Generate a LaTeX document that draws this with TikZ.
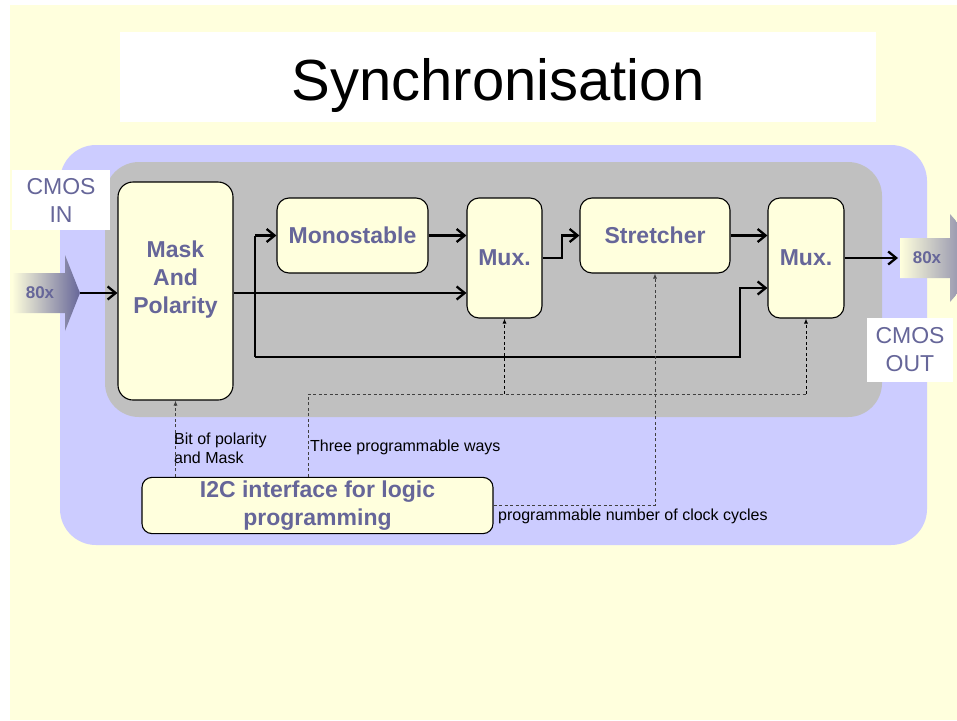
\documentclass[tikz,border=0pt]{standalone}
\usepackage{fontspec}
\setmainfont{Liberation Sans}
\usetikzlibrary{arrows.meta, positioning}

\definecolor{paleyellow}{HTML}{FFFFDD}
\definecolor{lavender}{HTML}{CCCCFF}
\definecolor{boardgray}{HTML}{C0C0C0}
\definecolor{slate}{HTML}{666699}

\begin{document}
\begin{tikzpicture}[
    x=1pt, y=-1pt,
    block/.style={rectangle, rounded corners=12pt, draw=black, line width=1.1pt, fill=paleyellow, text=slate, align=center, font={\fontsize{23}{28}\selectfont\bfseries}},
    cmos/.style={rectangle, fill=white, text=slate, align=center, font={\fontsize{23}{28}\selectfont}},
    note/.style={font={\fontsize{16}{19}\selectfont}, align=left, inner sep=0pt},
    flow/.style={line width=2.3pt, -{Straight Barb[length=8pt, width=13pt]}},
    wire/.style={line width=2.3pt},
    ctrl/.style={line width=0.8pt, dash pattern=on 3pt off 2.5pt, draw=black!75, -{Latex[length=5pt, width=4pt]}},
    bus/.style={line width=0.8pt, dash pattern=on 3pt off 2.5pt, draw=black!75}
]
    \path[use as bounding box] (0,0) rectangle (957,720);
    \clip (0,0) rectangle (957,720);

    % Background
    \fill[paleyellow] (10,5) rectangle (957,720);
    \node[fill=white, minimum width=756pt, minimum height=90pt, text height=46pt, text depth=0pt, font={\fontsize{58}{58}\selectfont}] (title) at (498,77) {Synchronisation};
    \fill[lavender, rounded corners=36pt] (60,145) rectangle (927,545);
    \fill[boardgray, rounded corners=34pt] (105,162) rectangle (882,417);

    % Inputs and outputs
    \node[cmos, minimum width=98pt, minimum height=60pt] (cmosin) at (61,200) {CMOS\\IN};
    \node[cmos, minimum width=86pt, minimum height=64pt] (cmosout) at (910,350) {CMOS\\OUT};
    \shade[left color=paleyellow, right color=slate] (12,273) -- (65,273) -- (65,255) -- (80,293) -- (65,331) -- (65,313) -- (12,313) -- cycle;
    \node[text=slate, font={\fontsize{17}{17}\selectfont\bfseries}] (inlabel) at (40,293) {80x};
    \coordinate (in) at (80,293);
    \shade[left color=paleyellow, right color=slate] (900,238) -- (950,238) -- (950,214) -- (988,258) -- (950,302) -- (950,278) -- (900,278) -- cycle;
    \node[text=slate, font={\fontsize{17}{17}\selectfont\bfseries}] (outlabel) at (927,258) {80x};
    \coordinate (out) at (898,258);

    % Blocks
    \node[block, rounded corners=15pt, minimum width=115pt, minimum height=218pt] (mask) at (175.5,291) {\raisebox{5pt}[0pt][0pt]{\begin{tabular}{@{}c@{}}Mask\\And\\Polarity\end{tabular}}};
    \node[block, minimum width=151pt, minimum height=75pt] (monostable) at (352.5,235.5) {Monostable};
    \node[block, minimum width=75pt, minimum height=120pt] (mux1) at (504.5,258) {Mux.};
    \node[block, minimum width=150pt, minimum height=75pt] (stretcher) at (655,235.5) {Stretcher};
    \node[block, minimum width=76pt, minimum height=120pt] (mux2) at (806,258) {Mux.};
    \node[block, rounded corners=10pt, minimum width=351pt, minimum height=55pt] (i2c) at (317.5,505.5) {I2C interface for logic\\programming};

    % Data path
    \coordinate (split) at (255,293);
    \coordinate (low) at (255,357);
    \coordinate (up) at (740,288);
    \coordinate (jog) at (562,258);
    \draw[flow] (in) -- (in -| mask.west);
    \draw[flow] (in -| mask.east) -- (in -| mux1.west);
    \draw[flow] (split |- monostable.west) -- (monostable.west);
    \draw[wire] (split |- monostable.west) -- (low);
    \draw[flow] (low) -- (low -| up) -- (up) -- (up -| mux2.west);
    \draw[flow] (monostable.east) -- (monostable.east -| mux1.west);
    \draw[flow] (mux1.east) -- (jog) |- (stretcher.west);
    \draw[flow] (stretcher.east) -- (stretcher.east -| mux2.west);
    \draw[flow] (mux2.east) -- (out);

    % Programming
    \coordinate (ways) at (308,394);
    \draw[ctrl] (mask.south |- i2c.north) -- (mask.south);
    \draw[bus] (ways |- i2c.north) -- (ways) -- (ways -| mux2.south);
    \draw[ctrl, draw=black] (ways -| mux1.south) -- (mux1.south);
    \draw[ctrl, draw=black] (ways -| mux2.south) -- (mux2.south);
    \draw[ctrl] (i2c.east) -- (i2c.east -| stretcher.south) -- (stretcher.south);

    \node[note, anchor=north west] (bitnote) at (174,433) {Bit of polarity\\and Mask};
    \node[note, anchor=west] (waysnote) at (310,447) {Three programmable ways};
    \node[note, anchor=west] (clocknote) at (498,516) {programmable number of clock cycles};

\end{tikzpicture}
\end{document}
